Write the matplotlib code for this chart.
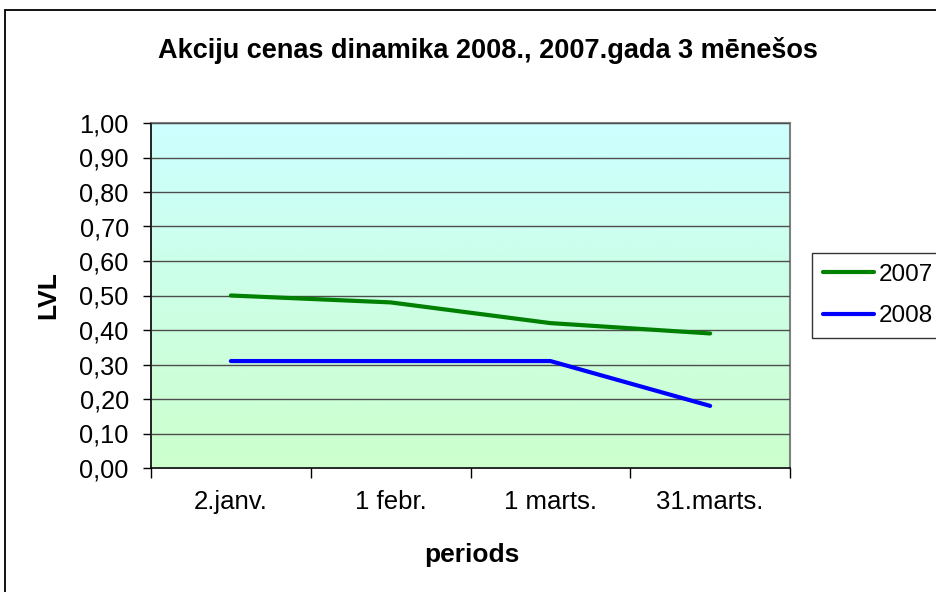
import numpy as np
import matplotlib.pyplot as plt
from matplotlib.patches import Rectangle
from matplotlib.ticker import FuncFormatter

plt.rcParams['font.family'] = ['Liberation Sans', 'DejaVu Sans']

# dati
periodi = ['2.janv.', '1 febr.', '1 marts.', '31.marts.']
cenas_2007 = [0.50, 0.48, 0.42, 0.39]
cenas_2008 = [0.31, 0.31, 0.31, 0.18]
gadi = ['2007', '2008']

fig = plt.figure(figsize=(9.37, 5.92), dpi=100)
ax = fig.add_axes([151 / 937, 1 - 468 / 592, (790 - 151) / 937, (468 - 123) / 592])

# fons ar gradientu (cian -> gaiši zaļš)
top = np.array([204, 255, 255]) / 255
bot = np.array([204, 255, 204]) / 255
t = np.linspace(0, 1, 256)[:, None]
grad = (top * (1 - t) + bot * t)[:, None, :]
ax.imshow(grad, extent=[-0.5, 3.5, 0, 1], aspect='auto', zorder=0)

x = np.arange(len(periodi))
ax.plot(x, cenas_2007, color='#008000', lw=3, label=gadi[0], zorder=3, solid_capstyle='round')
ax.plot(x, cenas_2008, color='#0000FF', lw=3, label=gadi[1], zorder=3, solid_capstyle='round')

ax.set_xlim(-0.5, 3.5)
ax.set_ylim(0, 1)
ax.set_yticks(np.arange(0, 1.01, 0.1))
ax.yaxis.set_major_formatter(FuncFormatter(lambda v, p: f"{v:.2f}".replace('.', ',')))
ax.grid(axis='y', color='#4d4d4d', lw=1, zorder=1)
ax.set_axisbelow(False)

ax.set_xticks(np.arange(-0.5, 3.6, 1))
ax.set_xticklabels([])
ax.set_xticks(x, minor=True)
ax.set_xticklabels(periodi, minor=True)
ax.tick_params(axis='x', which='minor', length=0, pad=16, labelsize=18.5)
ax.tick_params(axis='x', which='major', length=7, width=1, color='black')
ax.tick_params(axis='y', length=6, width=1, labelsize=18.3, pad=10)

for s in ['top', 'right']:
    ax.spines[s].set_color('#808080')
    ax.spines[s].set_linewidth(1.5)
for s in ['left', 'bottom']:
    ax.spines[s].set_color('black')
    ax.spines[s].set_linewidth(1.2)

fig.text(488 / 937, 1 - 50 / 592, 'Akciju cenas dinamika 2008., 2007.gada 3 mēnešos',
         ha='center', va='center', fontsize=19.5, fontweight='bold')
fig.text(472 / 937, 1 - 555 / 592, 'periods', ha='center', va='center',
         fontsize=19, fontweight='bold')
fig.text(48 / 937, 1 - 295 / 592, 'LVL', ha='center', va='center', rotation=90,
         fontsize=19, fontweight='bold')

leg = fig.legend(loc='upper left', bbox_to_anchor=(812 / 937, 1 - 253 / 592),
                 fontsize=17.5, frameon=True, fancybox=False, handlelength=2.1,
                 handletextpad=0.2, borderpad=0.45, labelspacing=0.8,
                 borderaxespad=0)
leg.get_frame().set_edgecolor('black')
leg.get_frame().set_linewidth(1)

# ārējā rāmja līnija
fig.add_artist(Rectangle((5 / 937, -0.1), 1.2, 0.1 + 1 - 10 / 592, transform=fig.transFigure,
                         fill=False, edgecolor='black', lw=1.3))

fig.savefig('out.png', dpi=100)
